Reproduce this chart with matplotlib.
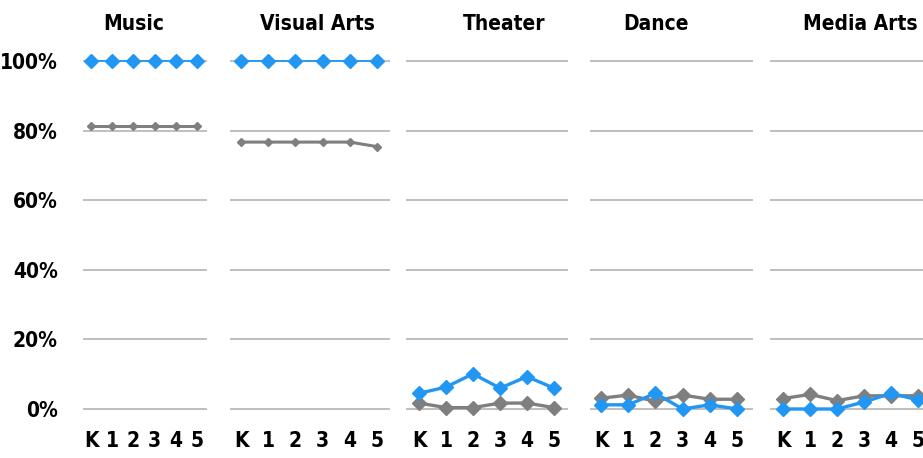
import numpy as np
import matplotlib.pyplot as plt

# Данные
grades = ['K', '1', '2', '3', '4', '5']
subjects = ['Music', 'Visual Arts', 'Theater', 'Dance', 'Media Arts']

music_blue = [100, 100, 100, 100, 100, 100]
music_gray = [81.2, 81.2, 81.2, 81.2, 81.2, 81.2]
visual_blue = [100, 100, 100, 100, 100, 100]
visual_gray = [76.7, 76.7, 76.7, 76.7, 76.7, 75.4]
theater_blue = [4.5, 6.3, 10.1, 6.0, 9.3, 6.0]
theater_gray = [1.7, 0.4, 0.4, 1.7, 1.7, 0.4]
dance_blue = [1.2, 1.2, 4.5, 0.0, 1.2, 0.0]
dance_gray = [3.1, 4.0, 2.2, 4.0, 2.8, 2.8]
media_blue = [0.0, 0.0, 0.0, 2.0, 4.5, 2.6]
media_gray = [3.0, 4.2, 2.4, 3.8, 3.8, 3.8]

blue_series = [music_blue, visual_blue, theater_blue, dance_blue, media_blue]
gray_series = [music_gray, visual_gray, theater_gray, dance_gray, media_gray]
yticks = [0, 20, 40, 60, 80, 100]
ylabels = ['0%', '20%', '40%', '60%', '80%', '100%']

BLUE = '#2196F3'
GRAY = '#7F7F7F'
plt.rcParams['font.family'] = ['DejaVu Sans']
plt.rcParams['font.stretch'] = 'condensed'
FS = 15

W, H = 923, 458
fig = plt.figure(figsize=(W / 100, H / 100), dpi=100)

# пиксельная раскладка панелей: левый край, правый край, x точки K, x точки 5
panels = [(83, 207, 91, 197), (230, 390, 241, 377), (406, 568, 419, 554),
          (590, 753, 601, 737), (770, 932, 783, 918)]
title_x = [134, 317, 504, 656, 860]
y100, y0 = 61, 409
top, bottom = 45, 420
per = (y0 - y100) / 100.0

for i, (x0, x1, xk, x5) in enumerate(panels):
    ax = fig.add_axes([x0 / W, 1 - bottom / H, (x1 - x0) / W, (bottom - top) / H])
    sp = (x5 - xk) / 5.0
    ax.set_xlim(-(xk - x0) / sp, 5 + (x1 - x5) / sp)
    ax.set_ylim(-(bottom - y0) / per, 100 + (y100 - top) / per)
    x = np.arange(len(grades))
    small = i < 2
    ax.plot(x, gray_series[i], color=GRAY, lw=2.2 if small else 2.4, marker='D',
            ms=4.4 if small else 6.8, clip_on=False, zorder=3)
    ax.plot(x, blue_series[i], color=BLUE, lw=1.3 if small else 2.4, marker='D',
            ms=7.0 if small else 6.8, clip_on=False, zorder=4)
    for yt in yticks:
        ax.axhline(yt, color='#ADADAD', lw=1.1, zorder=1)
    for s in ax.spines.values():
        s.set_visible(False)
    ax.set_xticks(x)
    ax.set_xticklabels(grades, fontsize=FS, fontweight='bold', fontstretch='condensed')
    ax.tick_params(axis='x', length=0, pad=8)
    ax.set_yticks(yticks)
    if i == 0:
        ax.set_yticklabels(ylabels, fontsize=FS, fontweight='bold', fontstretch='condensed')
        ax.tick_params(axis='y', length=0, pad=18)
    else:
        ax.set_yticklabels([])
        ax.tick_params(axis='y', length=0)
    fig.text(title_x[i] / W, 1 - 24 / H, subjects[i], ha='center', va='center',
             fontsize=FS, fontweight='bold', fontstretch='condensed')

fig.savefig('out.png', dpi=100)
